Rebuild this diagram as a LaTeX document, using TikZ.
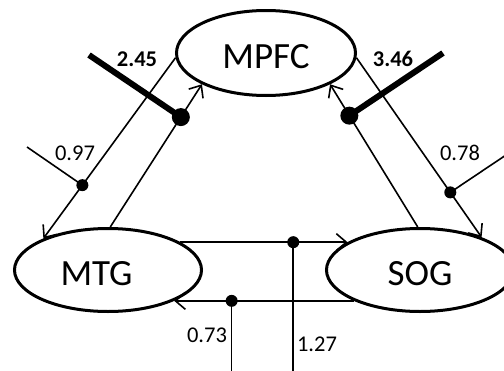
\documentclass[tikz,border=0pt]{standalone}
\usepackage{fontspec}
\setmainfont{Carlito}
\usetikzlibrary{shapes.geometric,arrows.meta}

\begin{document}
\begin{tikzpicture}[x=1pt, y=-1pt]

%---- STYLES ----
\tikzset{
    region/.style={ellipse, draw, line width=3pt, minimum width=187pt,
        minimum height=83pt, text height=32pt, font=\fontsize{37}{37}\selectfont},
    conn/.style={line width=1.6pt, -{Straight Barb[length=10pt, width=17pt, line width=1.6pt]}},
    bigdot/.style={circle, fill, inner sep=0pt, minimum size=18pt},
    smalldot/.style={circle, fill, inner sep=0pt, minimum size=12pt},
    strong/.style={line width=6pt},
    weak/.style={line width=1.6pt},
    coef/.style={font=\fontsize{22.5}{22.5}\selectfont},
}

% FRAME
\useasboundingbox (0,0) rectangle (504,370);
\clip (0,0) rectangle (504,370);

%---- REGIONS ----
\node[region, minimum width=179pt, minimum height=85pt] (mpfc) at (266,53) {MPFC};
\node[region, text width=95pt, align=left] (mtg) at (108,270) {MTG};
\node[region] (sog) at (420,270) {SOG};

%---- PATHS ----
\draw[conn] (mpfc.183) -- node[smalldot, pos=0.705] (d097) {} (mtg.154);
\draw[conn] (mtg.87) -- node[bigdot, pos=0.77] (d245) {} (mpfc.206);
\draw[conn] (sog.93) -- node[bigdot, pos=0.78] (d346) {} (mpfc.334);
\draw[conn] (mpfc.357) -- node[smalldot, pos=0.75] (d078) {} (sog.28);
\draw[conn] (mtg.21) -- node[smalldot, pos=0.675] (d127) {} (sog.159);
\draw[conn] (sog.205) -- node[smalldot, pos=0.68] (d073) {} (mtg.335);

% free ends of the modulating inputs
\coordinate (bot) at (0,372);
\coordinate (e245) at (89,55);
\coordinate (e346) at (443,53);
\coordinate (e097) at (27,147);
\coordinate (e078) at (512,151);

%---- INPUTS ----
\draw[strong] (d245.center) -- (e245);
\draw[strong] (d346.center) -- (e346);
\draw[weak] (d097.center) -- (e097);
\draw[weak] (d078.center) -- (e078);
\draw[weak] (d127.center) -- (d127 |- bot);
\draw[weak] (d073.center) -- (d073 |- bot);

%--- VALUES
\node[coef, font=\fontsize{22.5}{22.5}\selectfont\bfseries] (l245) at (137,59) {2.45};
\node[coef, font=\fontsize{22.5}{22.5}\selectfont\bfseries] (l346) at (393,59) {3.46};
\node[coef] (l097) at (75,153) {0.97};
\node[coef] (l078) at (460,153) {0.78};
\node[coef] (l073) at (207,335) {0.73};
\node[coef] (l127) at (317,344) {1.27};

\end{tikzpicture}
\end{document}
